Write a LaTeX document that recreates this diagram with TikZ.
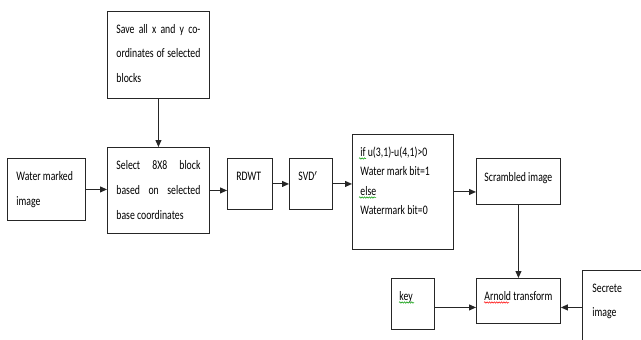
\documentclass[tikz,border=0pt]{standalone}
\usepackage{fontspec}
\newfontfamily\calfont[FakeStretch=0.75]{Carlito}
\usetikzlibrary{arrows.meta,decorations.pathmorphing}
\newcommand\bxt[5]{\parbox[c][#2pt][t]{#1pt}{\fontsize{13pt}{#4pt}\selectfont\parindent=0pt\rule{0pt}{#3pt}#5}}
\begin{document}
\begin{tikzpicture}[x=1pt,y=-1pt,
 box/.style={draw=black!85, line width=0.9pt, inner xsep=9pt, inner ysep=0pt, anchor=north west, font=\calfont},
 arr/.style={draw=black!85, line width=1pt, -{Triangle[length=7pt,width=6pt]}},
 squig/.style={decorate, decoration={snake, amplitude=0.7pt, segment length=2.4pt}, line width=0.5pt}]
\useasboundingbox (0,0) rectangle (641,340);
\clip (0,0) rectangle (641,340);
\node[box] (save) at (107,11) {\bxt{84}{87}{22}{24.5}{Save all x and y co-\linebreak ordinates of selected\linebreak blocks}};
\node[box] (sel) at (107,147) {\bxt{84}{86}{22}{25}{Select 8X8 block\linebreak based on selected\linebreak base coordinates}};
\node[box] (wat) at (7,158) {\bxt{60}{62}{22}{25}{Water marked\\image}};
\node[box] (rdwt) at (227,158) {\bxt{27}{51}{22}{15}{RDWT}};
\node[box] (svd) at (289,158) {\bxt{25}{51}{22}{15}{SVD$'$}};
\node[box, inner xsep=8pt] (cond) at (352,134) {\bxt{85}{115}{22}{19.5}{if u(3,1)-u(4,1)>0\\Water mark bit=1\\else\\Watermark bit=0}};
\node[box, inner xsep=8pt] (scr) at (476,158) {\bxt{68}{46}{23}{15}{\mbox{Scrambled image}}};
\node[box, inner xsep=8pt] (arn) at (476,278) {\bxt{68}{45}{22}{15}{\mbox{Arnold transform}}};
\node[box, inner xsep=8pt] (key) at (391,278) {\bxt{27}{51}{22}{15}{key}};
\node[box, inner xsep=10pt] (sec) at (582,270) {\bxt{60}{90}{22}{24}{Secrete\\image}};
\draw[arr] (save) -- (sel);
\draw[arr] (wat.east) -- (wat.east -| sel.west);
\draw[arr] (sel.east) -- (sel.east -| rdwt.west);
\draw[arr] (rdwt) -- (svd);
\draw[arr] (svd.east) -- (svd.east -| cond.west);
\draw[arr] (cond.east) -- (cond.east -| scr.west);
\draw[arr] (scr) -- (arn);
\coordinate (k) at ([yshift=-3.5pt]key.east);
\draw[arr] (k) -- (k -| arn.west);
\draw[arr] (sec.west |- k) -- (k -| arn.east);
\draw[squig, green!60!black] (359,158.5) -- (366,158.5);
\draw[squig, green!60!black] (359,197.5) -- (376,197.5);
\draw[squig, green!60!black] (399,302.5) -- (414,302.5);
\draw[squig, red] (484,302.5) -- (509,302.5);
\end{tikzpicture}
\end{document}
